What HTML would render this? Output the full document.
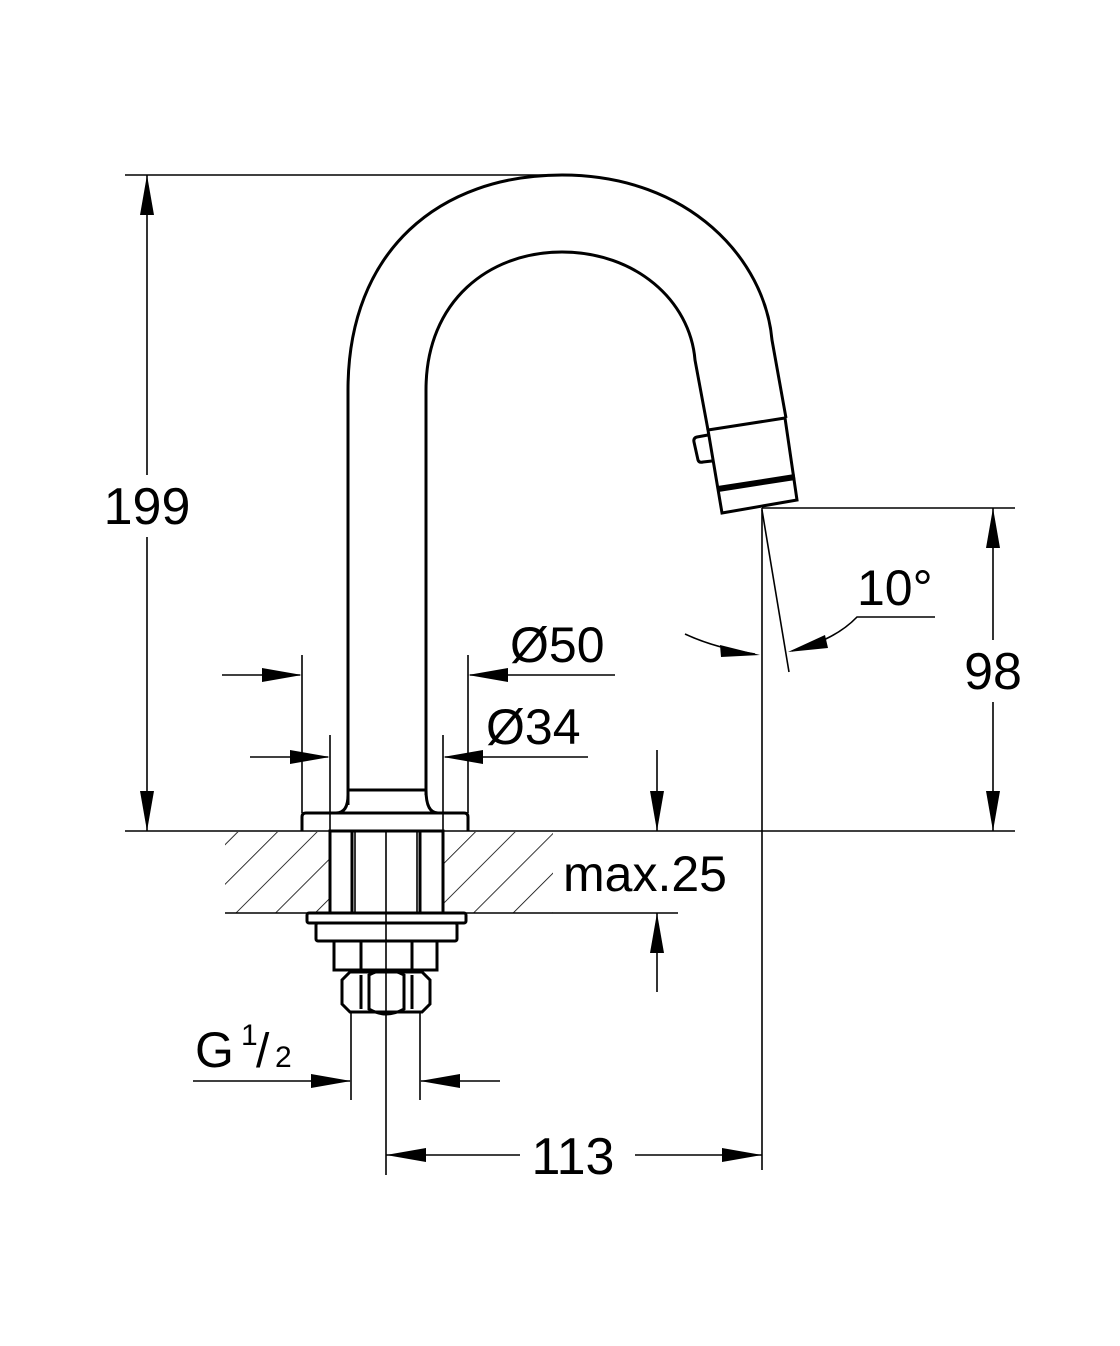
<!DOCTYPE html>
<html><head><style>html,body{margin:0;padding:0;background:#fff}svg{display:block}text{font-family:"Liberation Sans",sans-serif;fill:#000}</style></head>
<body>
<svg width="1120" height="1346" viewBox="0 0 1120 1346" xmlns="http://www.w3.org/2000/svg">
<defs>
<pattern id="h" patternUnits="userSpaceOnUse" width="28" height="28" patternTransform="rotate(45)">
<line x1="0" y1="0" x2="0" y2="28" stroke="#000" stroke-width="1.6"/>
</pattern>
</defs>
<g fill="none" stroke="#000" stroke-width="1.6">
<rect x="225" y="832" width="105" height="81" fill="url(#h)" stroke="none"/>
<rect x="443" y="832" width="110" height="81" fill="url(#h)" stroke="none"/>
<line x1="125" y1="831" x2="1015" y2="831"/>
<line x1="225" y1="913" x2="330" y2="913"/>
<line x1="443" y1="913" x2="553" y2="913"/>
<line x1="553" y1="913" x2="678" y2="913"/>
</g>
<g fill="none" stroke="#000" stroke-width="3">
<path d="M348,805 L348,390 C348,250 440,175 562,175 C690,175 765,260 772,340 L786,418"/>
<path d="M426,795 L426,390 C426,300 490,252 562,252 C635,252 690,300 695,360 L708,430"/>
<path d="M348,795 Q348,813 336,813"/>
<path d="M426,790 Q426,813 438,813"/>
<line x1="348" y1="790" x2="426" y2="790"/>
<path d="M708,430 L785,418 L797,500 L722,513 Z"/>
<path d="M708,435 L697,437 Q693,438 694,442 L698,460 Q699,463 703,462 L712,461"/>
<line x1="718" y1="489" x2="795" y2="477" stroke-width="6"/>
<path d="M302,831 L302,817 Q302,813 306,813 L464,813 Q468,813 468,817 L468,831"/>
<rect x="330" y="831" width="113" height="82"/>
<line x1="352" y1="831" x2="352" y2="913"/>
<line x1="420" y1="831" x2="420" y2="913"/>
<rect x="307" y="913" width="159" height="10" rx="2"/>
<rect x="316" y="923" width="141" height="18" rx="2"/>
<rect x="334" y="941" width="103" height="29"/>
<line x1="361" y1="941" x2="361" y2="970"/>
<line x1="412" y1="941" x2="412" y2="970"/>
<path d="M350,972 L422,972 L430,980 L430,1004 L422,1012 L350,1012 L342,1004 L342,980 Z"/>
<path d="M369,975 Q386,965 404,975 L404,1009 Q386,1019 369,1009 Z"/>
<line x1="361" y1="975" x2="361" y2="1009"/>
<line x1="412" y1="975" x2="412" y2="1009"/>
</g>
<g fill="none" stroke="#000" stroke-width="1.6">
<line x1="355" y1="831" x2="355" y2="913"/>
<line x1="417" y1="831" x2="417" y2="913"/>
<line x1="386" y1="831" x2="386" y2="1175"/>
<line x1="125" y1="175" x2="560" y2="175"/>
<line x1="147" y1="175" x2="147" y2="831"/>
<line x1="762" y1="508" x2="1015" y2="508"/>
<line x1="993" y1="508" x2="993" y2="831"/>
<line x1="762" y1="508" x2="762" y2="1170"/>
<line x1="386" y1="1155" x2="520" y2="1155"/>
<line x1="635" y1="1155" x2="762" y2="1155"/>
<line x1="762" y1="510" x2="789" y2="672"/>
<path d="M685,634 Q715,648 755,654"/>
<path d="M792,651 Q835,640 857,617 L935,617"/>
<line x1="302" y1="655" x2="302" y2="813"/>
<line x1="468" y1="655" x2="468" y2="813"/>
<line x1="222" y1="675" x2="300" y2="675"/>
<line x1="470" y1="675" x2="615" y2="675"/>
<line x1="330" y1="735" x2="330" y2="831"/>
<line x1="443" y1="735" x2="443" y2="831"/>
<line x1="250" y1="757" x2="328" y2="757"/>
<line x1="445" y1="757" x2="588" y2="757"/>
<line x1="657" y1="750" x2="657" y2="831"/>
<line x1="657" y1="913" x2="657" y2="992"/>
<line x1="351" y1="1012" x2="351" y2="1100"/>
<line x1="420" y1="1012" x2="420" y2="1100"/>
<line x1="193" y1="1081" x2="350" y2="1081"/>
<line x1="421" y1="1081" x2="500" y2="1081"/>
</g>
<g fill="#000">
<path d="M147,175 l-7,40 h14 z"/><path d="M147,831 l-7,-40 h14 z"/>
<path d="M993,508 l-7,40 h14 z"/><path d="M993,831 l-7,-40 h14 z"/>
<path d="M386,1155 l40,-7 v14 z"/><path d="M762,1155 l-40,-7 v14 z"/>
<path d="M760,655 l-40,-10 l1,12 z"/><path d="M788,652 l37,-17 l3,13 z"/>
<path d="M302,675 l-40,-7 v14 z"/><path d="M468,675 l40,-7 v14 z"/>
<path d="M330,757 l-40,-7 v14 z"/><path d="M443,757 l40,-7 v14 z"/>
<path d="M657,831 l-7,-40 h14 z"/><path d="M657,913 l-7,40 h14 z"/>
<path d="M351,1081 l-40,-7 v14 z"/><path d="M420,1081 l40,-7 v14 z"/>
</g>
<rect x="98" y="475" width="100" height="62" fill="#fff"/>
<text x="147" y="524" font-size="52" text-anchor="middle">199</text>
<rect x="958" y="640" width="70" height="62" fill="#fff"/>
<text x="993" y="689" font-size="52" text-anchor="middle">98</text>
<text x="573" y="1174" font-size="52" text-anchor="middle">113</text>
<text x="857" y="605" font-size="50">10°</text>
<text x="510" y="662" font-size="50">Ø50</text>
<text x="486" y="744" font-size="50">Ø34</text>
<text x="563" y="891" font-size="50">max.25</text>
<text x="195" y="1067" font-size="50">G</text>
<text x="241" y="1045" font-size="30">1</text>
<text x="256" y="1067" font-size="48">/</text>
<text x="275" y="1067" font-size="30">2</text>
</svg>
</body></html>
